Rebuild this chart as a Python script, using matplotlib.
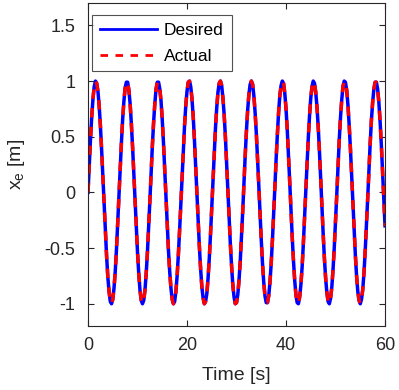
import numpy as np
import matplotlib
matplotlib.use("Agg")
import matplotlib.pyplot as plt

# time samples [s], every 0.25 s
time = np.arange(0, 60.01, 0.25)

# x_e [m], one row per 5 s
x_desired = [
    0.00, 0.25, 0.48, 0.68, 0.84, 0.95, 1.00, 0.98, 0.91, 0.78, 0.60, 0.38, 0.14, -0.11, -0.35, -0.57, -0.76, -0.89, -0.98, -1.00,
    -0.96, -0.86, -0.71, -0.51, -0.28, -0.03, 0.22, 0.45, 0.66, 0.82, 0.94, 0.99, 0.99, 0.92, 0.80, 0.62, 0.41, 0.17, -0.08, -0.32,
    -0.54, -0.73, -0.88, -0.97, -1.00, -0.97, -0.88, -0.73, -0.54, -0.31, -0.07, 0.18, 0.42, 0.63, 0.80, 0.93, 0.99, 0.99, 0.93, 0.82,
    0.65, 0.44, 0.21, -0.04, -0.29, -0.52, -0.71, -0.86, -0.96, -1.00, -0.98, -0.89, -0.75, -0.56, -0.34, -0.10, 0.15, 0.39, 0.60, 0.78,
    0.91, 0.99, 1.00, 0.95, 0.84, 0.68, 0.47, 0.24, -0.01, -0.26, -0.49, -0.69, -0.85, -0.95, -1.00, -0.98, -0.91, -0.77, -0.59, -0.37,
    -0.13, 0.12, 0.36, 0.58, 0.76, 0.90, 0.98, 1.00, 0.96, 0.85, 0.70, 0.50, 0.27, 0.02, -0.22, -0.46, -0.66, -0.83, -0.94, -1.00,
    -0.99, -0.92, -0.79, -0.62, -0.40, -0.17, 0.08, 0.33, 0.55, 0.74, 0.88, 0.97, 1.00, 0.97, 0.87, 0.72, 0.53, 0.30, 0.06, -0.19,
    -0.43, -0.64, -0.81, -0.93, -0.99, -0.99, -0.93, -0.81, -0.64, -0.43, -0.20, 0.05, 0.30, 0.52, 0.72, 0.87, 0.96, 1.00, 0.98, 0.89,
    0.75, 0.56, 0.33, 0.09, -0.16, -0.40, -0.61, -0.79, -0.92, -0.99, -1.00, -0.94, -0.83, -0.67, -0.46, -0.23, 0.02, 0.26, 0.49, 0.69,
    0.85, 0.95, 1.00, 0.98, 0.90, 0.77, 0.59, 0.37, 0.12, -0.13, -0.37, -0.59, -0.77, -0.90, -0.98, -1.00, -0.95, -0.85, -0.69, -0.49,
    -0.26, -0.02, 0.23, 0.47, 0.67, 0.83, 0.95, 1.00, 0.99, 0.92, 0.79, 0.61, 0.40, 0.16, -0.09, -0.34, -0.56, -0.75, -0.89, -0.97,
    -1.00, -0.96, -0.87, -0.72, -0.52, -0.29, -0.05, 0.20, 0.44, 0.65, 0.81, 0.93, 0.99, 0.99, 0.93, 0.81, 0.64, 0.43, 0.19, -0.06,
    -0.30,
]
# actual follows the desired trajectory (indistinguishable in the picture)
x_actual = list(x_desired)

plt.rcParams['font.family'] = ['Liberation Sans', 'DejaVu Sans']

fig = plt.figure(figsize=(3.99, 3.90), dpi=100)
ax = fig.add_axes([0.2206, 0.164, 0.7444, 0.828])

ax.plot(time, x_desired, color='#0000ff', linewidth=2.5, label='Desired')
ax.plot(time, x_actual, color='#ff0000', linewidth=2.5, linestyle=(0, (2.7, 2.7)), label='Actual')

ax.set_xlim(0, 60)
ax.set_ylim(-1.2, 1.7)
ax.set_xticks([0, 20, 40, 60])
ax.set_yticks([-1, -0.5, 0, 0.5, 1, 1.5])
ax.set_yticklabels(['-1', '-0.5', '0', '0.5', '1', '1.5'])

ax.tick_params(direction='in', length=4, width=0.8, top=True, right=True,
               labelsize=13, colors='#262626')
ax.tick_params(axis='x', pad=8)
ax.tick_params(axis='y', pad=9)
for sp in ax.spines.values():
    sp.set_color('#262626')
    sp.set_linewidth(0.8)

ax.set_xlabel('Time [s]', fontsize=14, color='#262626', labelpad=9)
ax.set_ylabel(r'x$_{\mathregular{e}}$ [m]', fontsize=14, color='#262626', labelpad=13)

leg = ax.legend(loc='upper left', bbox_to_anchor=(0.0135, 0.963), borderaxespad=0,
                fontsize=12.5, frameon=True, fancybox=False, edgecolor='#262626',
                handlelength=3.3, handletextpad=0.4, labelspacing=0.6, borderpad=0.45)
leg.get_frame().set_linewidth(0.8)
for ln in leg.get_lines():
    ln.set_linewidth(2.0)

fig.savefig('out.png', dpi=100)
